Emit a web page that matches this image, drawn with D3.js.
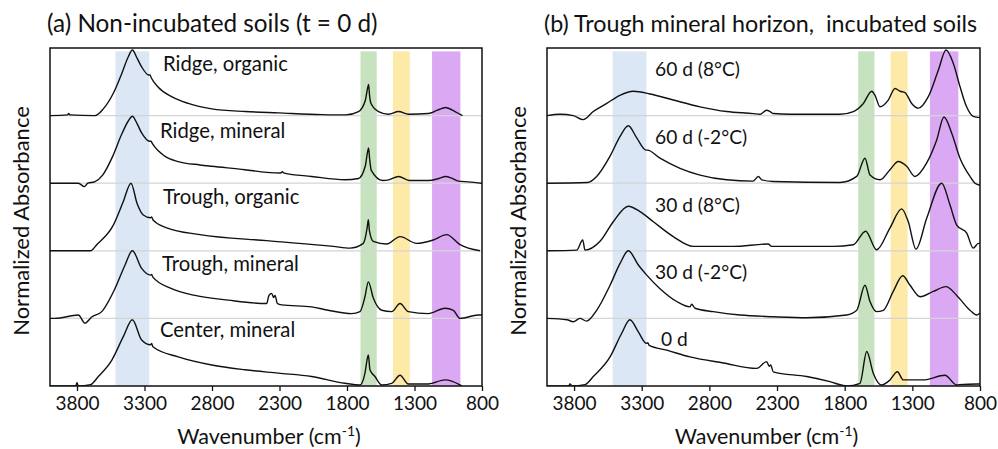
<!DOCTYPE html>
<html>
<head>
<meta charset="utf-8">
<script src="https://cdn.jsdelivr.net/npm/d3@7"></script>
<style>
  body { margin: 0; background: #fff; }
  svg { display: block; font-family: Lato, "Open Sans", sans-serif; }
</style>
</head>
<body>
<div id="chart"></div>
<script>
// spectra: [wavenumber (cm-1), normalized absorbance]
const ridgeOrganic = [[4000,0],[3870,0.01],[3862,0.03],[3852,0.01],[3667,0],[3605,0.10],[3531,0.33],[3469,0.62],[3420,0.87],[3390,0.97],[3355,0.85],[3321,0.72],[3268,0.60],[3259,0.60],[3250,0.56],[3198,0.42],[3099,0.28],[2976,0.18],[2802,0.10],[2553,0.06],[2308,0.04],[1982,0.015],[1811,0.01],[1715,0.06],[1665,0.22],[1648,0.40],[1640,0.46],[1633,0.30],[1622,0.18],[1566,0.06],[1492,0.02],[1418,0.06],[1344,0.02],[1196,0.03],[1130,0.08],[1070,0.12],[1000,0.06],[945,0]]
const ridgeMineral = [[4000,0],[3790,0],[3745,-0.05],[3720,0],[3670,0.02],[3610,0.12],[3535,0.40],[3470,0.72],[3420,0.92],[3390,0.99],[3355,0.88],[3320,0.74],[3262,0.62],[3252,0.62],[3240,0.58],[3150,0.40],[3050,0.32],[2889,0.27],[2802,0.25],[2556,0.20],[2395,0.16],[2290,0.15],[2280,0.17],[2265,0.15],[2062,0.10],[1815,0.05],[1715,0.07],[1665,0.25],[1648,0.46],[1640,0.52],[1632,0.35],[1620,0.19],[1535,0.04],[1490,0.05],[1418,0.10],[1340,0.04],[1196,0.04],[1120,0.07],[1070,0.10],[1020,0.07],[975,0.03],[900,0.02],[800,0]]
const troughOrganic = [[4000,0],[3700,0],[3654,0.09],[3531,0.38],[3457,0.73],[3400,1.0],[3355,0.70],[3309,0.53],[3255,0.49],[3247,0.50],[3238,0.46],[3136,0.34],[2889,0.24],[2395,0.15],[1901,0.065],[1778,0.04],[1679,0.11],[1650,0.35],[1642,0.46],[1634,0.30],[1605,0.14],[1506,0.10],[1407,0.21],[1284,0.11],[1161,0.16],[1062,0.24],[963,0.09],[815,0]]
const troughMineral = [[4000,0],[3963,0],[3790,0.05],[3741,-0.07],[3691,0.02],[3617,0.10],[3519,0.44],[3444,0.79],[3390,1.0],[3321,0.74],[3255,0.64],[3247,0.65],[3238,0.61],[3099,0.44],[2926,0.34],[2679,0.27],[2395,0.22],[2378,0.34],[2358,0.37],[2343,0.31],[2333,0.34],[2316,0.22],[2284,0.20],[2062,0.17],[1939,0.12],[1765,0.07],[1704,0.10],[1667,0.32],[1642,0.54],[1605,0.30],[1543,0.12],[1469,0.10],[1407,0.22],[1346,0.10],[1198,0.07],[1074,0.15],[1012,0.12],[963,0],[828,0.05],[800,0.05]]
const centerMineral = [[4000,0],[3810,0],[3800,0.05],[3790,0],[3700,0.02],[3642,0.14],[3543,0.38],[3457,0.73],[3390,0.98],[3321,0.68],[3255,0.61],[3247,0.63],[3238,0.58],[3050,0.43],[2802,0.31],[2556,0.24],[2309,0.19],[2062,0.14],[1815,0.04],[1704,0.015],[1667,0.19],[1650,0.40],[1642,0.46],[1630,0.24],[1593,0.14],[1543,0.015],[1469,0.04],[1407,0.16],[1346,0.03],[1198,0.03],[1074,0.09],[963,0.015],[950,0]]

const day60warm = [[4000,0],[3904,0.02],[3806,0],[3732,-0.06],[3658,0.06],[3559,0.18],[3461,0.30],[3362,0.36],[3239,0.32],[3067,0.23],[2869,0.13],[2672,0.06],[2475,0.03],[2426,0.02],[2377,0.08],[2352,0.06],[2328,0.03],[2204,0.02],[1835,0.02],[1736,0.06],[1662,0.18],[1600,0.36],[1576,0.30],[1539,0.13],[1478,0.23],[1428,0.40],[1391,0.36],[1354,0.34],[1305,0.18],[1256,0.11],[1182,0.28],[1108,0.67],[1051,0.97],[997,0.77],[948,0.43],[899,0.13],[850,-0.01],[800,-0.03]]
const day60cold = [[4000,0],[3700,0.01],[3633,0.10],[3534,0.40],[3461,0.69],[3399,0.85],[3337,0.67],[3268,0.49],[3258,0.49],[3165,0.37],[3017,0.22],[2869,0.12],[2672,0.05],[2478,0.03],[2438,0.10],[2413,0.05],[2328,0.025],[1835,0.01],[1711,0.10],[1650,0.37],[1613,0.12],[1539,0.05],[1465,0.20],[1404,0.32],[1342,0.25],[1281,0.10],[1194,0.30],[1120,0.64],[1066,0.98],[1009,0.74],[948,0.37],[874,0.10],[837,0],[800,-0.03]]
const day30warm = [[4000,0],[3780,0.01],[3736,0.16],[3719,0.01],[3608,0.14],[3510,0.43],[3399,0.66],[3313,0.58],[3214,0.43],[3067,0.21],[2919,0.065],[2623,0.065],[2365,0.10],[2340,0.065],[2130,0.065],[1884,0.065],[1736,0.09],[1645,0.29],[1564,0.015],[1465,0.34],[1379,0.62],[1330,0.43],[1273,0.025],[1194,0.48],[1083,1.0],[1022,0.68],[972,0.38],[898,0.26],[850,0.04],[812,0.11],[800,0.11]]
const day30cold = [[4000,0],[3852,-0.02],[3806,-0.05],[3757,0],[3707,-0.04],[3633,0.12],[3534,0.49],[3461,0.81],[3399,1.0],[3325,0.79],[3263,0.64],[3165,0.44],[3041,0.25],[2943,0.17],[2931,0.21],[2906,0.15],[2771,0.10],[2574,0.05],[2328,0.025],[2081,0.01],[1785,0.05],[1711,0.12],[1650,0.49],[1613,0.25],[1564,0.10],[1515,0.12],[1441,0.40],[1371,0.63],[1317,0.49],[1243,0.32],[1145,0.40],[1051,0.47],[972,0.34],[874,0.12],[825,0.05],[800,0.08]]
const day0 = [[4000,0],[3840,0],[3830,0.03],[3815,0],[3720,0.02],[3658,0.14],[3534,0.43],[3448,0.78],[3387,0.98],[3325,0.80],[3265,0.63],[3255,0.64],[3245,0.60],[3115,0.53],[2943,0.43],[2697,0.34],[2450,0.26],[2377,0.36],[2357,0.29],[2347,0.31],[2328,0.21],[2081,0.14],[1909,0.065],[1785,0],[1687,0.04],[1637,0.51],[1589,0.19],[1527,0.015],[1465,0.09],[1411,0.21],[1367,0.09],[1219,0.09],[1059,0.16],[972,0.015],[955,0.02],[820,0.03],[800,0.03]]

const seriesA = [ridgeOrganic, ridgeMineral, troughOrganic, troughMineral, centerMineral]
const labelsA = ["Ridge, organic", "Ridge, mineral", "Trough, organic", "Trough, mineral", "Center, mineral"]
const seriesB = [day60warm, day60cold, day30warm, day30cold, day0]
const labelsB = ["60 d (8°C)", "60 d (-2°C)", "30 d (8°C)", "30 d (-2°C)", "0 d"]
const offsets = [4, 3, 2, 1, 0]

// highlighted absorption regions, cm-1
const bandFrom = [3515, 1700, 1460, 1170]
const bandTo = [3265, 1580, 1335, 960]
const xTicks = [3800, 3300, 2800, 2300, 1800, 1300, 800]
const titles = ["(a) Non-incubated soils (t = 0 d)", "(b) Trough mineral horizon,\u00a0 incubated soils"]

const bandColors = ["#dbe7f5", "#c6e2be", "#fde9a8", "#dba9f4"]
const W = 998, H = 449
const plotTop = 48, plotBottom = 386

const svg = d3.select("#chart").append("svg")
  .attr("width", W).attr("height", H)

const y = d3.scaleLinear().domain([0, 5]).range([plotBottom, plotTop])

function drawPanel(opts) {
  const x = d3.scaleLinear().domain([4000, 800]).range([opts.left, opts.right])
  const g = svg.append("g")

  g.append("clipPath").attr("id", "clip" + opts.id)
    .append("rect")
    .attr("x", opts.left).attr("y", plotTop)
    .attr("width", opts.right - opts.left).attr("height", plotBottom - plotTop)

  // coloured bands
  g.selectAll(".band")
    .data(bandFrom.map((d, i) => ({ from: d, to: bandTo[i], c: bandColors[i] })))
    .join("rect")
    .attr("x", d => x(d.from))
    .attr("width", d => x(d.to) - x(d.from))
    .attr("y", y(4.95))
    .attr("height", y(0) - y(4.95))
    .attr("fill", d => d.c)

  // light separators at each baseline
  g.selectAll(".sep")
    .data(offsets.filter(o => o > 0))
    .join("line")
    .attr("x1", opts.left).attr("x2", opts.right)
    .attr("y1", d => y(d)).attr("y2", d => y(d))
    .attr("stroke", "#d4d4d4")
    .attr("stroke-width", 1.2)

  const line = d3.line()
    .curve(d3.curveMonotoneX)
    .x(d => x(d[0]))
    .y(d => y(d[1] + d.off))

  g.append("g").attr("clip-path", `url(#clip${opts.id})`)
    .selectAll("path")
    .data(opts.series.map((s, i) => s.map(p => { const q = [p[0], p[1]]; q.off = offsets[i]; return q })))
    .join("path")
    .attr("d", line)
    .attr("fill", "none")
    .attr("stroke", "#111")
    .attr("stroke-width", 1.4)
    .attr("stroke-linejoin", "round")

  // frame
  g.append("rect")
    .attr("x", opts.left).attr("y", plotTop)
    .attr("width", opts.right - opts.left).attr("height", plotBottom - plotTop)
    .attr("fill", "none").attr("stroke", "#111").attr("stroke-width", 1.5)

  // x axis
  const axis = g.append("g")
    .attr("transform", `translate(0,${plotBottom})`)
    .call(d3.axisBottom(x).tickValues(xTicks).tickFormat(d3.format("d"))
      .tickSize(5).tickSizeOuter(0).tickPadding(6))
  axis.select(".domain").remove()
  axis.selectAll("line").attr("stroke", "#111").attr("stroke-width", 1.3)
  axis.selectAll("text")
    .attr("font-size", 19).attr("fill", "#111")
    .attr("font-family", "Lato")

  // series labels
  g.selectAll(".lab")
    .data(opts.labels)
    .join("text")
    .attr("x", (d, i) => opts.labelX[i])
    .attr("y", (d, i) => opts.labelY[i])
    .attr("font-size", opts.labelSize)
    .attr("fill", "#111")
    .text(d => d)

  // title
  g.append("text")
    .attr("x", opts.left - 3).attr("y", 32)
    .attr("font-size", opts.titleSize).attr("fill", "#111")
    .text(opts.title)

  // axis titles
  const xt = g.append("text")
    .attr("x", (opts.left + opts.right) / 2 + 3).attr("y", 444)
    .attr("text-anchor", "middle")
    .attr("font-size", 21.5).attr("fill", "#111")
  xt.append("tspan").text("Wavenumber (cm")
  xt.append("tspan").text("-1").attr("font-size", 14).attr("dy", -8)
  xt.append("tspan").text(")").attr("dy", 8)

  g.append("text")
    .attr("transform", `translate(${opts.left - 21},221) rotate(-90)`)
    .attr("text-anchor", "middle")
    .attr("font-size", 22).attr("fill", "#111")
    .text("Normalized Absorbance")
}

drawPanel({
  id: "a", left: 50, right: 482, series: seriesA, labels: labelsA, title: titles[0],
  titleSize: 24.3, labelSize: 20.3,
  labelX: [163, 160, 163, 162, 160], labelY: [71, 138, 204, 271, 337]
})
drawPanel({
  id: "b", left: 547, right: 980, series: seriesB, labels: labelsB, title: titles[1],
  titleSize: 23.3, labelSize: 19.2,
  labelX: [655, 655, 655, 655, 661], labelY: [76, 144, 212, 279, 346]
})
</script>
</body>
</html>
